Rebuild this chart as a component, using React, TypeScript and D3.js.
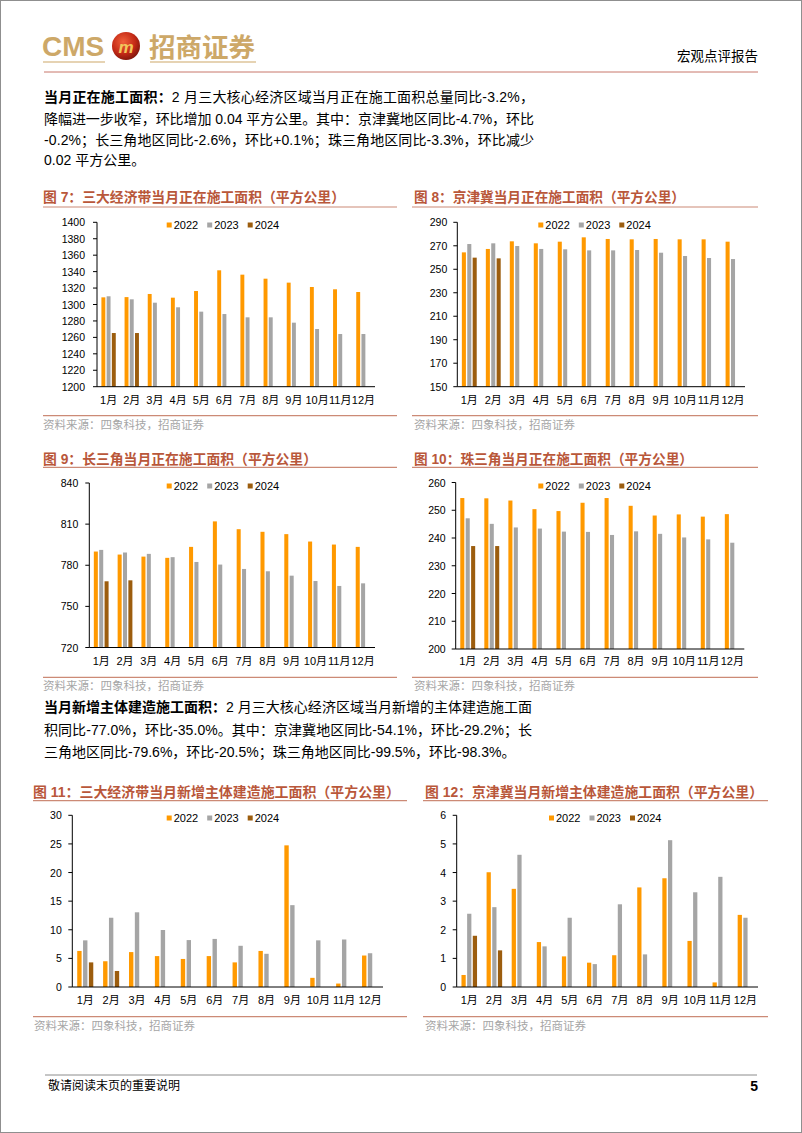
import React from 'react';
import * as d3 from 'd3';

const MONTHS = ['1月', '2月', '3月', '4月', '5月', '6月', '7月', '8月', '9月', '10月', '11月', '12月'];
const SERIES = ['2022', '2023', '2024'];
const COLORS = ['#FF9900', '#A5A5A5', '#9C5D0E'];

// 图7 三大经济带当月正在施工面积
const c7_2022 = [1308.7, 1309, 1312.8, 1308.3, 1316.4, 1341.6, 1336.3, 1331.4, 1326.6, 1321.3, 1318.5, 1315.2];
const c7_2023 = [1310, 1306.3, 1302.2, 1296.6, 1291.3, 1288.4, 1284.4, 1284.4, 1277.9, 1270.2, 1264.1, 1264.1];
const c7_2024 = [1265.3, 1265.3];
const c7_ticks = [1200, 1220, 1240, 1260, 1280, 1300, 1320, 1340, 1360, 1380, 1400];

// 图8 京津冀当月正在施工面积
const c8_2022 = [264.4, 267.3, 273.8, 272.1, 273.5, 277.2, 275.8, 275.5, 275.8, 275.5, 275.5, 273.5];
const c8_2023 = [271.5, 272.1, 269.8, 267.3, 267, 266.1, 266.1, 266.4, 264.1, 261.3, 259.6, 258.7];
const c8_2024 = [259.9, 259.3];
const c8_ticks = [150, 170, 190, 210, 230, 250, 270, 290];

// 图9 长三角当月正在施工面积
const c9_2022 = [790, 787.8, 786.3, 785.4, 793.4, 812, 806.3, 804.4, 802.7, 797.3, 795.1, 793.4];
const c9_2023 = [791.2, 789.3, 788.3, 785.9, 782.4, 780.5, 777.3, 775.6, 772.4, 768.5, 764.9, 766.8];
const c9_2024 = [768.3, 769];
const c9_ticks = [720, 750, 780, 810, 840];

// 图10 珠三角当月正在施工面积
const c10_2022 = [254.4, 254.3, 253.5, 250.4, 249.7, 252.7, 254.4, 251.6, 248.1, 248.5, 247.7, 248.6];
const c10_2023 = [247.1, 245.1, 243.8, 243.4, 242.3, 242.2, 241.1, 242.4, 241.5, 240.2, 239.5, 238.3];
const c10_2024 = [237.1, 237.1];
const c10_ticks = [200, 210, 220, 230, 240, 250, 260];

// 图11 三大经济带当月新增主体建造施工面积
const c11_2022 = [6.3, 4.5, 6.1, 5.4, 4.9, 5.4, 4.3, 6.3, 24.75, 1.6, 0.6, 5.5];
const c11_2023 = [8.15, 12.1, 13.05, 9.96, 8.2, 8.4, 7.2, 5.8, 14.3, 8.15, 8.3, 5.9];
const c11_2024 = [4.3, 2.8];
const c11_ticks = [0, 5, 10, 15, 20, 25, 30];

// 图12 京津冀当月新增主体建造施工面积
const c12_2022 = [0.42, 4.01, 3.43, 1.57, 1.07, 0.85, 1.11, 3.48, 3.8, 1.61, 0.16, 2.52];
const c12_2023 = [2.56, 2.79, 4.62, 1.42, 2.42, 0.8, 2.89, 1.14, 5.13, 3.31, 3.85, 2.42];
const c12_2024 = [1.79, 1.28];
const c12_ticks = [0, 1, 2, 3, 4, 5, 6];

const TITLES = [
  '图 7：三大经济带当月正在施工面积（平方公里）',
  '图 8：京津冀当月正在施工面积（平方公里）',
  '图 9：长三角当月正在施工面积（平方公里）',
  '图 10：珠三角当月正在施工面积（平方公里）',
  '图 11：三大经济带当月新增主体建造施工面积（平方公里）',
  '图 12：京津冀当月新增主体建造施工面积（平方公里）',
];
const SOURCE = '资料来源：四象科技，招商证券';

const PARA1 = [
  ['当月正在施工面积：', '2 月三大核心经济区域当月正在施工面积总量同比-3.2%，'],
  ['', '降幅进一步收窄，环比增加 0.04 平方公里。其中：京津冀地区同比-4.7%，环比'],
  ['', '-0.2%；长三角地区同比-2.6%，环比+0.1%；珠三角地区同比-3.3%，环比减少'],
  ['', '0.02 平方公里。'],
];
const PARA2 = [
  ['当月新增主体建造施工面积：', '2 月三大核心经济区域当月新增的主体建造施工面'],
  ['', '积同比-77.0%，环比-35.0%。其中：京津冀地区同比-54.1%，环比-29.2%；长'],
  ['', '三角地区同比-79.6%，环比-20.5%；珠三角地区同比-99.5%，环比-98.3%。'],
];

const FONT = '"Liberation Sans", Arial, "Noto Sans CJK SC", sans-serif';
const CJK = '"Liberation Sans", "Noto Sans CJK SC", sans-serif';
const TITLE_COLOR = '#B9573A';
const LINE_COLOR = '#CC8A76';
const GOLD = '#CDA868';

type ChartProps = {
  title: string;
  titleX: number; titleY: number; titleW: number;
  ruleX0: number; ruleX1: number; ruleY: number;
  x0: number; x1: number; yTop: number; yBot: number;
  ticks: number[];
  data: number[][];
  legendX: number; legendY: number;
  monthY: number;
  sepY: number; sourceX: number; sourceY: number;
  labelGap: number;
};

function BarChart(p: ChartProps) {
  const domain = [p.ticks[0], p.ticks[p.ticks.length - 1]];
  const y = d3.scaleLinear().domain(domain).range([p.yBot, p.yTop]);
  const x = d3.scaleBand<string>().domain(MONTHS).range([p.x0, p.x1]).paddingInner(0).paddingOuter(0);
  const bw = x.bandwidth();
  const groupW = bw * 0.62;
  const x1 = d3.scaleBand<string>().domain(SERIES).range([(bw - groupW) / 2, (bw + groupW) / 2]).paddingInner(0.25);
  return (
    <g>
      <text x={p.titleX} y={p.titleY} fontSize={14} fontWeight={700} fill={TITLE_COLOR}
        fontFamily={CJK} textLength={p.titleW} lengthAdjust="spacingAndGlyphs">{p.title}</text>
      <line x1={p.ruleX0} x2={p.ruleX1} y1={p.ruleY} y2={p.ruleY} stroke={LINE_COLOR} strokeWidth={1.2} />
      {/* legend */}
      {SERIES.map((s, i) => (
        <g key={s} transform={`translate(${p.legendX + i * 40.5},${p.legendY})`}>
          <rect x={0} y={-2.5} width={5} height={5} fill={COLORS[i]} />
          <text x={7} y={4} fontSize={11} fontFamily={FONT} fill="#000">{s}</text>
        </g>
      ))}
      {/* bars */}
      {p.data.map((vals, si) =>
        vals.map((v, mi) => {
          const m = MONTHS[mi];
          const bx = (x(m) as number) + (x1(SERIES[si]) as number);
          return <rect key={`${si}-${mi}`} x={bx} y={y(v)} width={x1.bandwidth()} height={y(domain[0]) - y(v)} fill={COLORS[si]} />;
        })
      )}
      {/* y axis */}
      <line x1={p.x0} x2={p.x0} y1={p.yTop} y2={p.yBot} stroke="#000" strokeWidth={1} />
      {p.ticks.map((t) => (
        <g key={t}>
          <line x1={p.x0 - 4} x2={p.x0} y1={y(t)} y2={y(t)} stroke="#000" strokeWidth={1} />
          <text x={p.x0 - p.labelGap} y={y(t) + 4} fontSize={10.5} textAnchor="end" fontFamily={FONT} fill="#000">{t}</text>
        </g>
      ))}
      {/* x axis */}
      <line x1={p.x0} x2={p.x1} y1={p.yBot} y2={p.yBot} stroke="#000" strokeWidth={1} />
      {MONTHS.map((m) => (
        <text key={m} x={(x(m) as number) + bw / 2} y={p.monthY} fontSize={11} textAnchor="middle" fontFamily={CJK} fill="#000">{m}</text>
      ))}
      <line x1={p.ruleX0} x2={p.ruleX1} y1={p.sepY} y2={p.sepY} stroke={LINE_COLOR} strokeWidth={1.2} />
      <text x={p.sourceX} y={p.sourceY} fontSize={11.5} fill="#A6A6A6" fontFamily={CJK}>{SOURCE}</text>
    </g>
  );
}

function Para({ lines, x, ys, widths }: { lines: string[][]; x: number; ys: number[]; widths: (number | null)[] }) {
  return (
    <g fontFamily={CJK} fontSize={14} fill="#000">
      {lines.map((ln, i) => {
        const w = widths[i];
        const extra: any = w ? { textLength: w, lengthAdjust: 'spacing' } : {};
        return (
          <text key={i} x={x} y={ys[i]} {...extra}>
            {ln[0] ? <tspan fontWeight={700}>{ln[0]}</tspan> : null}
            <tspan>{ln[1]}</tspan>
          </text>
        );
      })}
    </g>
  );
}

export default function App() {
  const charts: ChartProps[] = [
    {
      title: TITLES[0], titleX: 43, titleY: 202, titleW: 302, ruleX0: 43, ruleX1: 397, ruleY: 207,
      x0: 97, x1: 375, yTop: 222.3, yBot: 386.7, ticks: c7_ticks, data: [c7_2022, c7_2023, c7_2024],
      legendX: 166.7, legendY: 225, monthY: 404, sepY: 415.7, sourceX: 43, sourceY: 429, labelGap: 12,
    },
    {
      title: TITLES[1], titleX: 414, titleY: 202, titleW: 271, ruleX0: 412, ruleX1: 758, ruleY: 207,
      x0: 457.3, x1: 745, yTop: 222.3, yBot: 386.7, ticks: c8_ticks, data: [c8_2022, c8_2023, c8_2024],
      legendX: 538.3, legendY: 225, monthY: 404, sepY: 415.7, sourceX: 414, sourceY: 429, labelGap: 10,
    },
    {
      title: TITLES[2], titleX: 43, titleY: 464, titleW: 274, ruleX0: 43, ruleX1: 397, ruleY: 467.3,
      x0: 89.3, x1: 375, yTop: 483, yBot: 647.5, ticks: c9_ticks, data: [c9_2022, c9_2023, c9_2024],
      legendX: 166.7, legendY: 486, monthY: 665, sepY: 677.3, sourceX: 43, sourceY: 690, labelGap: 11,
    },
    {
      title: TITLES[3], titleX: 414, titleY: 464, titleW: 279, ruleX0: 412, ruleX1: 758, ruleY: 467.3,
      x0: 455.7, x1: 744.3, yTop: 482.5, yBot: 649, ticks: c10_ticks, data: [c10_2022, c10_2023, c10_2024],
      legendX: 538.3, legendY: 486, monthY: 665, sepY: 677.3, sourceX: 414, sourceY: 690, labelGap: 10,
    },
    {
      title: TITLES[4], titleX: 33, titleY: 796.5, titleW: 367, ruleX0: 33, ruleX1: 407, ruleY: 800.7,
      x0: 72.3, x1: 383, yTop: 815.3, yBot: 987, ticks: c11_ticks, data: [c11_2022, c11_2023, c11_2024],
      legendX: 166.7, legendY: 818, monthY: 1004, sepY: 1016.7, sourceX: 34, sourceY: 1030, labelGap: 10.5,
    },
    {
      title: TITLES[5], titleX: 425, titleY: 796.5, titleW: 338, ruleX0: 423, ruleX1: 768, ruleY: 800.7,
      x0: 456.7, x1: 758, yTop: 815.3, yBot: 987, ticks: c12_ticks, data: [c12_2022, c12_2023, c12_2024],
      legendX: 549, legendY: 818, monthY: 1004, sepY: 1016.7, sourceX: 425, sourceY: 1030, labelGap: 10.5,
    },
  ];

  return (
    <svg width={802} height={1133} style={{ position: 'absolute', left: 0, top: 0, background: '#fff' }}
      xmlns="http://www.w3.org/2000/svg">
      <defs>
        <radialGradient id="ball" cx="40%" cy="35%" r="70%">
          <stop offset="0%" stopColor="#F0603A" />
          <stop offset="60%" stopColor="#C42A16" />
          <stop offset="100%" stopColor="#7A140A" />
        </radialGradient>
      </defs>
      <rect x={0.5} y={0.5} width={801} height={1132} fill="#fff" stroke="#8F8F8F" strokeWidth={1} />
      {/* header */}
      <text x={42} y={56} fontSize={28} fontWeight={700} fill={GOLD} fontFamily={FONT}>CMS</text>
      <line x1={43} x2={105} y1={62} y2={62} stroke={GOLD} strokeWidth={1.2} />
      <circle cx={126} cy={46} r={14} fill="url(#ball)" />
      <text x={126} y={53} fontSize={17} fontWeight={700} fontStyle="italic" fill="#F2C75C" textAnchor="middle" fontFamily={FONT}>m</text>
      <text x={149} y={57} fontSize={26} fontWeight={700} fill={GOLD} fontFamily={CJK} textLength={106} lengthAdjust="spacingAndGlyphs">招商证券</text>
      <line x1={150} x2={256} y1={62} y2={62} stroke={GOLD} strokeWidth={1.2} />
      <text x={758} y={61} fontSize={13.5} textAnchor="end" fill="#000" fontFamily={CJK}>宏观点评报告</text>
      <line x1={44} x2={758} y1={72} y2={72} stroke="#C8766B" strokeWidth={1} />

      <Para lines={PARA1} x={44} ys={[102, 124, 145, 165]} widths={[490, 490, 490, null]} />
      <Para lines={PARA2} x={44} ys={[712, 735, 757]} widths={[488, 488, null]} />

      {charts.map((c, i) => <BarChart key={i} {...c} />)}

      {/* footer */}
      <line x1={45} x2={757} y1={1075} y2={1075} stroke="#8C8C8C" strokeWidth={1} />
      <text x={48} y={1090} fontSize={12} fill="#000" fontFamily={CJK}>敬请阅读末页的重要说明</text>
      <text x={758} y={1091} fontSize={14} fontWeight={700} textAnchor="end" fill="#000" fontFamily={FONT}>5</text>
    </svg>
  );
}
